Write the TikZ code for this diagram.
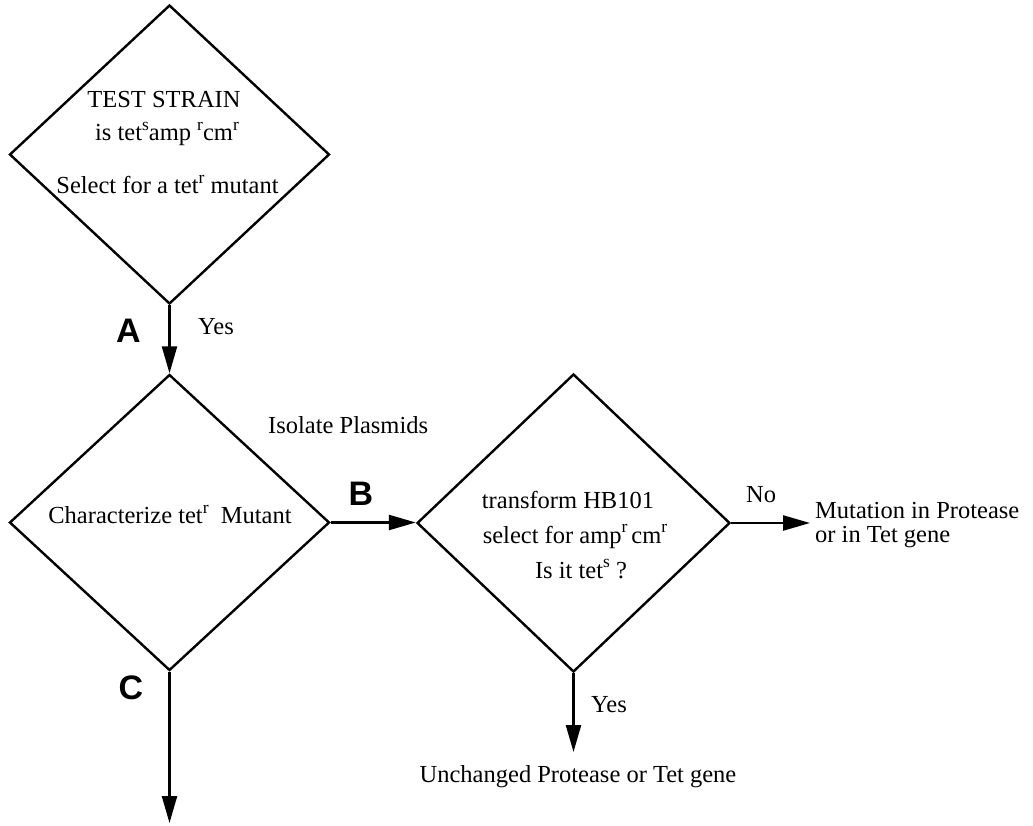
\documentclass[tikz,border=0pt]{standalone}
\usepackage{fontspec}
\setmainfont{Liberation Serif}
\newfontfamily\lblfont{Liberation Sans}
\usetikzlibrary{shapes.geometric,arrows.meta}
\newcommand{\sups}[1]{\raisebox{0.42em}{\fontsize{17.5}{17.5}\selectfont #1}}
\begin{document}
\begin{tikzpicture}[x=1pt,y=-1pt,
  dia/.style={draw, shape=diamond, line width=2.4pt, inner sep=0pt},
  txt/.style={anchor=base, inner sep=0pt, font=\fontsize{24.5}{26}\selectfont},
  txtw/.style={anchor=base west, inner sep=0pt, font=\fontsize{24.5}{26}\selectfont},
  big/.style={inner sep=0pt, font=\lblfont\bfseries\fontsize{34}{34}\selectfont},
  arr/.style={line width=2.4pt, -{Triangle[length=27pt,width=15pt]}}]
\useasboundingbox (0,0) rectangle (1033,826);
% diamonds
\node[dia, minimum width=320pt, minimum height=299pt] (d1) at (169.5,154.5) {};
\node[dia, minimum width=320pt, minimum height=296pt] (d2) at (169.5,522.5) {};
\node[dia, minimum width=313pt, minimum height=298pt] (d3) at (573.5,523) {};
% free ends
\coordinate (noEnd) at (810,523);
\coordinate (yesEnd) at (573.5,752);
\coordinate (cEnd) at (169.5,823);
% connectors
\draw[arr] (d1.south) -- (d2.north);
\draw[arr] (d2.east) -- (d2.east -| d3.west);
\draw[arr] (d3.east) -- (noEnd);
\draw[arr] (d3.south) -- (yesEnd);
\draw[arr] (d2.south) -- (cEnd);
% diamond 1 text
\node[txt] (t1a) at (164,108) {TEST STRAIN};
\node[txt] (t1b) at (167,141) {is tet\sups{s}amp \sups{r}cm\sups{r}};
\node[txt] (t1c) at (167.5,194) {Select for a tet\sups{r} mutant};
% diamond 2 text
\node[txt] (t2) at (170,523) {Characterize tet\raisebox{10pt}{\fontsize{17.5}{17.5}\selectfont r}\ \ Mutant};
\node[txtw] (iso) at (268,433) {Isolate Plasmids};
% diamond 3 text
\node[txt] (t3a) at (568,508) {transform HB101};
\node[txt] (t3b) at (575,543) {select for amp\sups{r}\,cm\sups{r}};
\node[txt] (t3c) at (581,578) {Is it tet\sups{s} ?};
% labels
\node[big] (lA) at (128.5,330.5) {A};
\node[big] (lB) at (361,493.5) {B};
\node[big] (lC) at (131,688) {C};
\node[txtw] (yes1) at (198,334) {Yes};
\node[txtw] (no) at (746,502) {No};
\node[txtw] (yes2) at (591,712) {Yes};
\node[txtw] (mut1) at (815,518) {Mutation in Protease};
\node[txtw] (mut2) at (815,542) {or in Tet gene};
\node[txt] (unch) at (578,782) {Unchanged Protease or Tet gene};
\end{tikzpicture}
\end{document}
